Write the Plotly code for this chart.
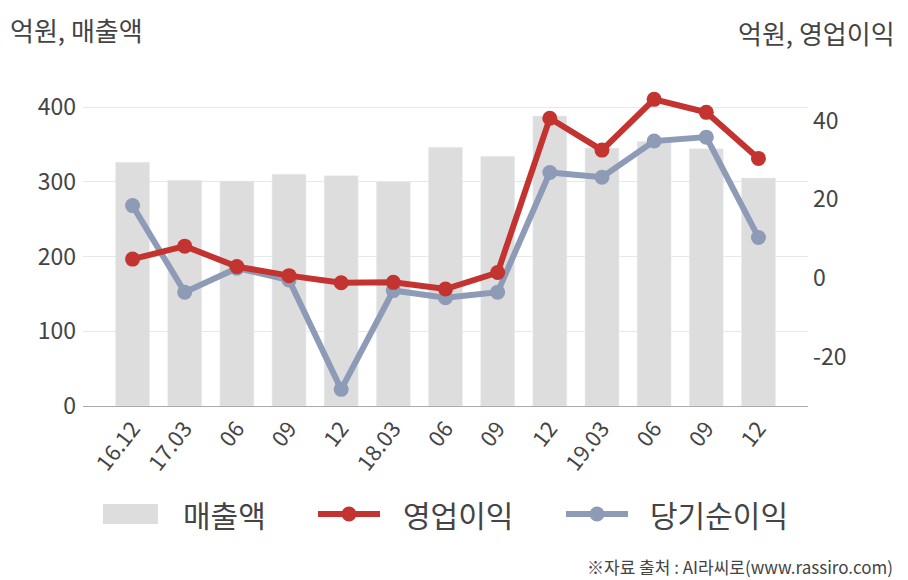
import plotly.graph_objects as go

periods = ["16.12", "17.03", "06", "09", "12", "18.03", "06", "09", "12", "19.03", "06", "09", "12"]
sales = [326, 302, 301, 310, 308, 300, 346, 334, 388, 345, 354, 344, 305]
op_profit = [4.8, 8.1, 2.9, 0.6, -1.2, -1.1, -2.8, 1.4, 40.6, 32.5, 45.4, 42.1, 30.4]
net_profit = [18.4, -3.6, 2.5, -0.5, -28.3, -3.2, -5.0, -3.6, 26.8, 25.6, 34.8, 35.8, 10.3]
left_ticks = [0, 100, 200, 300, 400]
right_ticks = [-20, 0, 20, 40]
right_tick_labels = ["-20", "0", "20", "40"]

BAR = "#dddddd"
RED = "#c3332f"
BLUE = "#8e9bb7"
TXT = "#444444"
FONT = "Noto Sans CJK KR"

W, H = 908, 580
L, R, T, B = 83, 100, 70, 174
PW, PH = W - L - R, H - T - B

x = list(range(len(periods)))

fig = go.Figure()
fig.add_trace(go.Bar(x=x, y=sales, marker_color=BAR, width=0.65, name="매출액", yaxis="y"))
fig.add_trace(go.Scatter(x=x, y=net_profit, mode="lines+markers", name="당기순이익",
                         line=dict(color=BLUE, width=6), marker=dict(size=15, color=BLUE), yaxis="y2"))
fig.add_trace(go.Scatter(x=x, y=op_profit, mode="lines+markers", name="영업이익",
                         line=dict(color=RED, width=6), marker=dict(size=15, color=RED), yaxis="y2"))


def px(xp):
    return (xp - L) / PW


def py(yp):
    return (H - B - yp) / PH


shapes = []
annotations = []
# legend
ly = 514
shapes.append(dict(type="rect", xref="paper", yref="paper", x0=px(103), x1=px(158), y0=py(524), y1=py(504),
                   fillcolor=BAR, line=dict(width=0)))
for (x0, x1, col) in [(318, 380, RED), (566, 628, BLUE)]:
    shapes.append(dict(type="line", xref="paper", yref="paper", x0=px(x0), x1=px(x1), y0=py(ly), y1=py(ly),
                       line=dict(color=col, width=6)))
    cx = (x0 + x1) / 2
    shapes.append(dict(type="circle", xref="paper", yref="paper", x0=px(cx - 7.5), x1=px(cx + 7.5),
                       y0=py(ly + 7.5), y1=py(ly - 7.5), fillcolor=col, line=dict(width=0)))
for (tx, txt) in [(181, "매출액"), (401, "영업이익"), (648, "당기순이익")]:
    annotations.append(dict(xref="paper", yref="paper", x=px(tx), y=py(ly), text=txt, showarrow=False,
                            xanchor="left", yanchor="middle", font=dict(family=FONT, size=30, color=TXT)))
# axis titles
annotations.append(dict(xref="paper", yref="paper", x=px(8), y=py(30), text="억원, 매출액", showarrow=False,
                        xanchor="left", yanchor="middle", font=dict(family=FONT, size=26, color=TXT)))
annotations.append(dict(xref="paper", yref="paper", x=px(897), y=py(33), text="억원, 영업이익", showarrow=False,
                        xanchor="right", yanchor="middle", font=dict(family=FONT, size=26, color=TXT)))
annotations.append(dict(xref="paper", yref="paper", x=px(895), y=py(566), text="※자료 출처 : AI라씨로(www.rassiro.com)",
                        showarrow=False, xanchor="right", yanchor="middle",
                        font=dict(family=FONT, size=17, color=TXT)))

fig.update_layout(
    width=W, height=H,
    margin=dict(l=L, r=R, t=T, b=B, pad=0),
    paper_bgcolor="white", plot_bgcolor="white",
    showlegend=False,
    font=dict(family=FONT, color=TXT),
    xaxis=dict(range=[-0.95, 12.95], tickvals=x, ticktext=periods, tickangle=-52,
               tickfont=dict(family=FONT, size=22, color=TXT), showgrid=False, zeroline=False,
               showline=True, linecolor="#aaaaaa", linewidth=1, ticks="", fixedrange=True),
    yaxis=dict(range=[0, (H - B - T) / 0.7475], tickvals=left_ticks, showgrid=True, gridcolor="#e8e8e8",
               gridwidth=1, zeroline=False, tickfont=dict(family=FONT, size=23, color=TXT), ticks="",
               ticklabelstandoff=6),
    yaxis2=dict(range=[-32.53, 52.86], tickvals=right_ticks, ticktext=right_tick_labels, overlaying="y",
                side="right", showgrid=False,
                zeroline=False, tickfont=dict(family=FONT, size=23, color=TXT), ticks="",
                ticklabelstandoff=4),
    shapes=shapes,
    annotations=annotations,
)

fig.write_html("out.html", config={"displayModeBar": False},
               post_script="document.body.style.margin='0';document.body.style.overflow='hidden';")
